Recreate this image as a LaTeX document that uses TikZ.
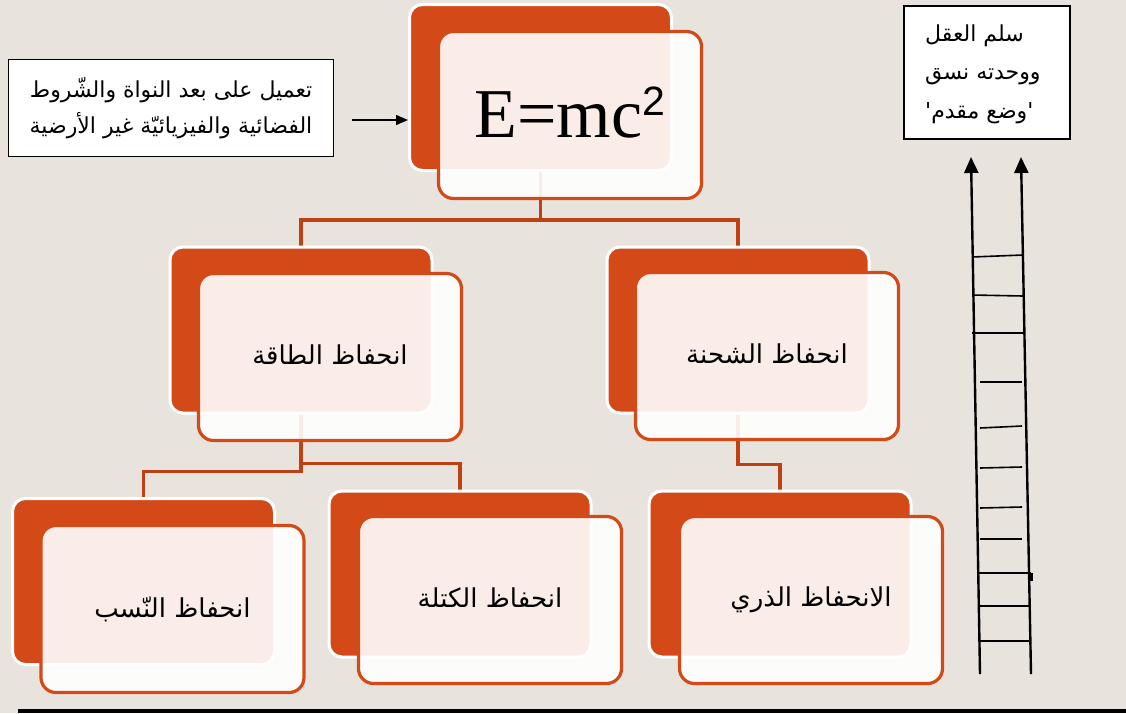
\documentclass[tikz,border=0pt]{standalone}
\usepackage{fontspec}
\setmainfont{Liberation Serif}
\newfontfamily\arabicfont[Script=Arabic]{DejaVu Sans}
\newfontfamily\digitfont{Liberation Sans}
\TeXXeTstate=1
\usetikzlibrary{arrows.meta}
\pgfdeclarelayer{paper}
\pgfdeclarelayer{links}
\pgfsetlayers{paper,links,main}
\definecolor{pagebg}{RGB}{232,228,221}
\definecolor{orng}{RGB}{211,74,24}
\definecolor{linkc}{RGB}{190,65,22}
\newcommand\rtl[1]{\beginR #1\endR}
\tikzset{
  backbox/.style={draw=white, line width=3pt, fill=orng, rounded corners=13pt,
    minimum width=262pt, minimum height=166pt, inner sep=0pt},
  frontbox/.style={draw=orng, line width=3.2pt, fill=white, fill opacity=0.9,
    draw opacity=1, text opacity=1, rounded corners=15pt,
    minimum width=263pt, minimum height=167pt, inner sep=0pt,
    font=\arabicfont\fontsize{26}{30}\selectfont},
  link/.style={draw=linkc, line width=3.5pt},
  textbox/.style={draw=black, line width=1.3pt, fill=white, inner sep=0pt},
  rail/.style={line width=2.4pt, -{Triangle[width=14pt,length=16pt]}},
  rung/.style={line width=1.6pt},
}
\begin{document}
\begin{tikzpicture}[x=1pt,y=-1pt]
\begin{pgfonlayer}{paper}
  \fill[pagebg] (0,0) rectangle (1126,713);
\end{pgfonlayer}
\useasboundingbox (0,0) rectangle (1126,713);

% card backs
\node[backbox] (emcB) at (540.5,87.5) {};
\node[backbox] (enB)  at (301,330) {};
\node[backbox] (chB)  at (738,330) {};
\node[backbox] (nsB)  at (143.5,581.5) {};
\node[backbox] (maB)  at (460,574) {};
\node[backbox] (atB)  at (780,574) {};

% card fronts
\node[frontbox] (emc) at (570,115) {\raisebox{5pt}{\fontsize{70}{72}\selectfont\rmfamily E=mc\raisebox{22pt}{\digitfont\fontsize{41}{41}\selectfont 2}}};
\node[frontbox] (en) at (330,357) {\raisebox{4pt}{\rtl{انحفاظ الطاقة}}};
\node[frontbox] (ch) at (767,356) {\raisebox{4pt}{\rtl{انحفاظ الشحنة}}};
\node[frontbox] (ns) at (172.5,609) {\raisebox{4pt}{\rtl{انحفاظ النّسب}}};
\node[frontbox] (ma) at (490,600) {\raisebox{4pt}{\rtl{انحفاظ الكتلة}}};
\node[frontbox] (at) at (811,600) {\raisebox{4pt}{\rtl{الانحفاظ الذري}}};

% tree connectors
\begin{pgfonlayer}{links}
  \draw[link] (emcB.south) -- ++(0,48) -| (enB.north);
  \draw[link] (emcB.south) -- ++(0,48) -| (chB.north);
  \draw[link] (enB.south) -- ++(0,57) -| (nsB.north);
  \draw[link] (enB.south) -- ++(0,49) -| (maB.north);
  \draw[link] (chB.south) -- ++(0,50) -| (atB.north);
\end{pgfonlayer}

% note on the left
\node[textbox, minimum width=325pt, minimum height=97pt, align=right,
  font=\arabicfont\fontsize{22}{36}\selectfont] (lbox) at (171,108)
  {\rtl{تعميل على بعد النواة والشّروط}\\\rtl{الفضائية والفيزيائيّة غير الأرضية}};
\coordinate (arrS) at (352,120);
\draw[-{Triangle[width=10pt,length=12pt]}, line width=1.3pt] (arrS) -- (arrS -| emcB.west);

% note on the right
\node[textbox, minimum width=166pt, minimum height=133pt] (rbox) at (987,72.5) {};
\node[anchor=west, align=left, inner sep=0pt,
  font=\arabicfont\fontsize{22}{38.5}\selectfont] (rtxt) at (925,74)
  {\rtl{سلم العقل}\\\rtl{ووحدته نسق}\\\rtl{'وضع مقدم'}};

% ladder
\draw[rail] (980,674) -- (971,157);
\draw[rail] (1031,674) -- (1021,157);
\draw[rung] (972,257) -- (1023,255);
\draw[rung] (972,295) -- (1023,296);
\draw[rung] (972,333) -- (1023,333);
\draw[rung] (980,382) -- (1022,382);
\draw[rung] (980,428) -- (1022,426);
\draw[rung] (980,468) -- (1022,467);
\draw[rung] (980,508) -- (1022,507);
\draw[rung] (980,539) -- (1022,539);
\draw[rung] (979,573) -- (1031,573);
\draw[rung] (979,606) -- (1031,606);
\draw[rung] (979,641) -- (1031,641);
\draw[line width=3pt] (1031,573) -- (1031,581);

% bottom rule
\fill[black] (18,709) rectangle (1126,713);
\end{tikzpicture}
\end{document}
